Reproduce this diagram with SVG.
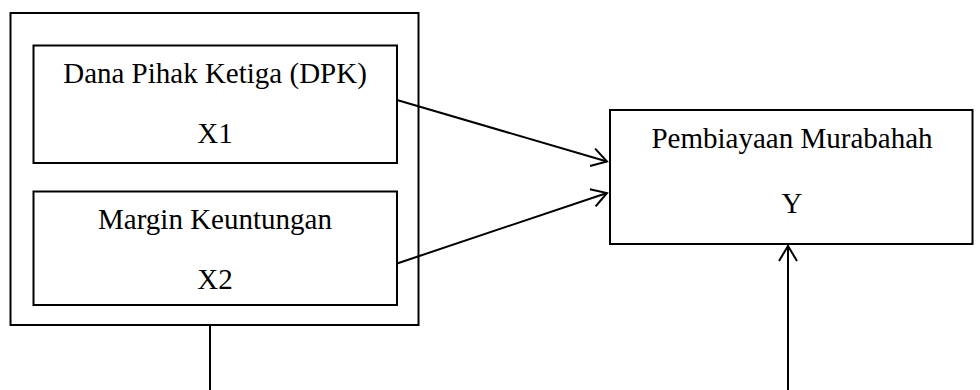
<svg xmlns="http://www.w3.org/2000/svg" width="980" height="390" viewBox="0 0 980 390">
  <defs>
    <style>
      .box { fill: #ffffff; stroke: #000000; stroke-width: 2; }
      .lbl { font-size: 29px; fill: #000000; text-anchor: middle; }
      .edge { fill: none; stroke: #000000; stroke-width: 2; }
    </style>
    <marker id="open-arrow" markerUnits="userSpaceOnUse" markerWidth="24" markerHeight="24" viewBox="-16 -12 20 24" refX="0" refY="0" orient="auto" overflow="visible">
      <path d="M -15 -9 L 0 0 L -15 9" fill="none" stroke="#000000" stroke-width="2"/>
    </marker>
  </defs>
  <rect width="980" height="390" fill="#ffffff"/>

  <!-- Independent variables container -->
  <g id="independent-group">
    <rect class="box" x="10.5" y="13" width="408" height="312"/>
  </g>

  <g id="labels" font-family="'Liberation Serif', 'Times New Roman', 'DejaVu Serif', serif">
    <g id="x1">
      <rect class="box" x="33.5" y="45.5" width="363.5" height="117.5"/>
      <text class="lbl" x="215" y="83">Dana Pihak Ketiga (DPK)</text>
      <text class="lbl" x="215" y="143">X1</text>
    </g>

    <g id="x2">
      <rect class="box" x="33.5" y="191.5" width="363.5" height="113.5"/>
      <text class="lbl" x="215" y="229">Margin Keuntungan</text>
      <text class="lbl" x="215" y="289">X2</text>
    </g>

    <g id="y">
      <rect class="box" x="610" y="110" width="362.5" height="134"/>
      <text class="lbl" x="792" y="148">Pembiayaan Murabahah</text>
      <text class="lbl" x="792" y="213">Y</text>
    </g>
  </g>

  <!-- Connectors -->
  <g id="connectors">
    <line class="edge" x1="397" y1="100" x2="607" y2="161.5" marker-end="url(#open-arrow)"/>
    <line class="edge" x1="397" y1="263.5" x2="607" y2="193" marker-end="url(#open-arrow)"/>
    <line class="edge" x1="210" y1="325" x2="210" y2="390"/>
    <line class="edge" x1="788" y1="390" x2="788" y2="246" marker-end="url(#open-arrow)"/>
  </g>
</svg>
